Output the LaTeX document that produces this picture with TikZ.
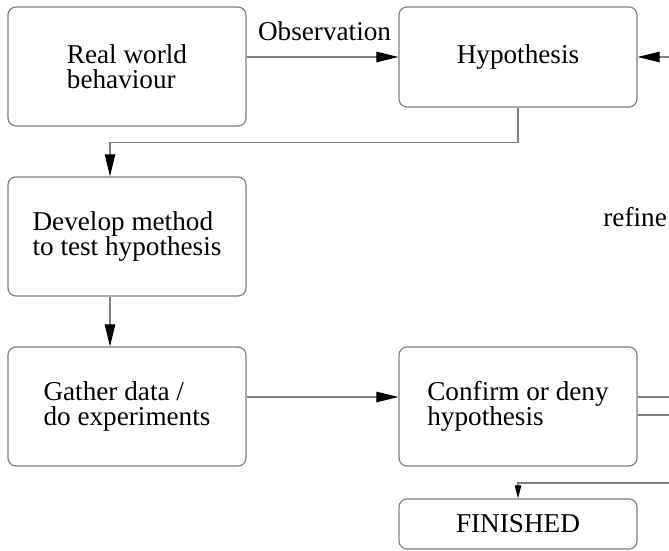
\documentclass[tikz,border=0pt]{standalone}
\usepackage{fontspec}
\setmainfont{Liberation Serif}
\usetikzlibrary{arrows.meta}
\usetikzlibrary{calc}
\usetikzlibrary{positioning}
\lineskiplimit=-6pt

\tikzset{
  stage/.style={draw=black!50,line width=0.6pt,rounded corners=4pt,minimum width=119pt,align=left,font=\fontsize{13.6}{12.3}\selectfont},
  link/.style={draw=black!50,line width=0.55pt},
  flow/.style={link,-{Triangle[length=11pt,width=5.2pt,black]}},
  smallflow/.style={link,-{Triangle[length=6.5pt,width=3.2pt,black]}},
  tag/.style={inner sep=0pt,font=\fontsize{13.6}{12.3}\selectfont},
}

\begin{document}
\begin{tikzpicture}[x=0.5pt,y=-0.5pt]
\useasboundingbox (0,0) rectangle (669,551);

\node[stage,minimum height=59.5pt] (real) at (127,66.5) {Real world\\behaviour};
\node[stage,minimum height=50pt] (hyp) at (518,57) {Hypothesis};
\node[stage,minimum height=59.5pt] (dev) at (127,236.5) {Develop method\\to test hypothesis};
\node[stage,minimum height=59.5pt] (gather) at (127,406.5) {Gather data /\\do experiments};
\node[stage,minimum height=59.5pt] (confirm) at (518,406.5) {Confirm or deny\\hypothesis};
\node[stage,minimum height=25pt] (fin) at (518,524) {FINISHED};

% the refine loop runs off the right edge
\coordinate (rim) at (669,0);
\coordinate (devin) at ($(dev.north)+(-17,0)$);
\coordinate (gout) at ($(gather.east)+(0,-9.5)$);
\coordinate (cout) at ($(confirm.east)+(0,-9.5)$);
\coordinate (cdown) at ($(confirm.east)+(0,8.5)$);
\coordinate (finback) at (669,483);

\draw[flow] (hyp.west -| real.east) -- (hyp.west);
\node[tag,anchor=base east] (obs) at ($(hyp.west)+(-7,-16.5)$) {Observation};

\draw[flow] (hyp.south) |- ($(devin)+(0,-34)$) -- (devin);
\draw[flow] (dev.south -| devin) -- (gather.north -| devin);
\draw[flow] (gout) -- (gout -| confirm.west);

\draw[link] (cout) -- (cout -| rim);
\draw[link] (cdown) -- (cdown -| rim);
\draw[flow] (hyp.east -| rim) -- (hyp.east);
\node[tag,anchor=base west] (refine) at (603,226.7) {refine};

\draw[smallflow] (finback) -| (fin.north);
\end{tikzpicture}
\end{document}
